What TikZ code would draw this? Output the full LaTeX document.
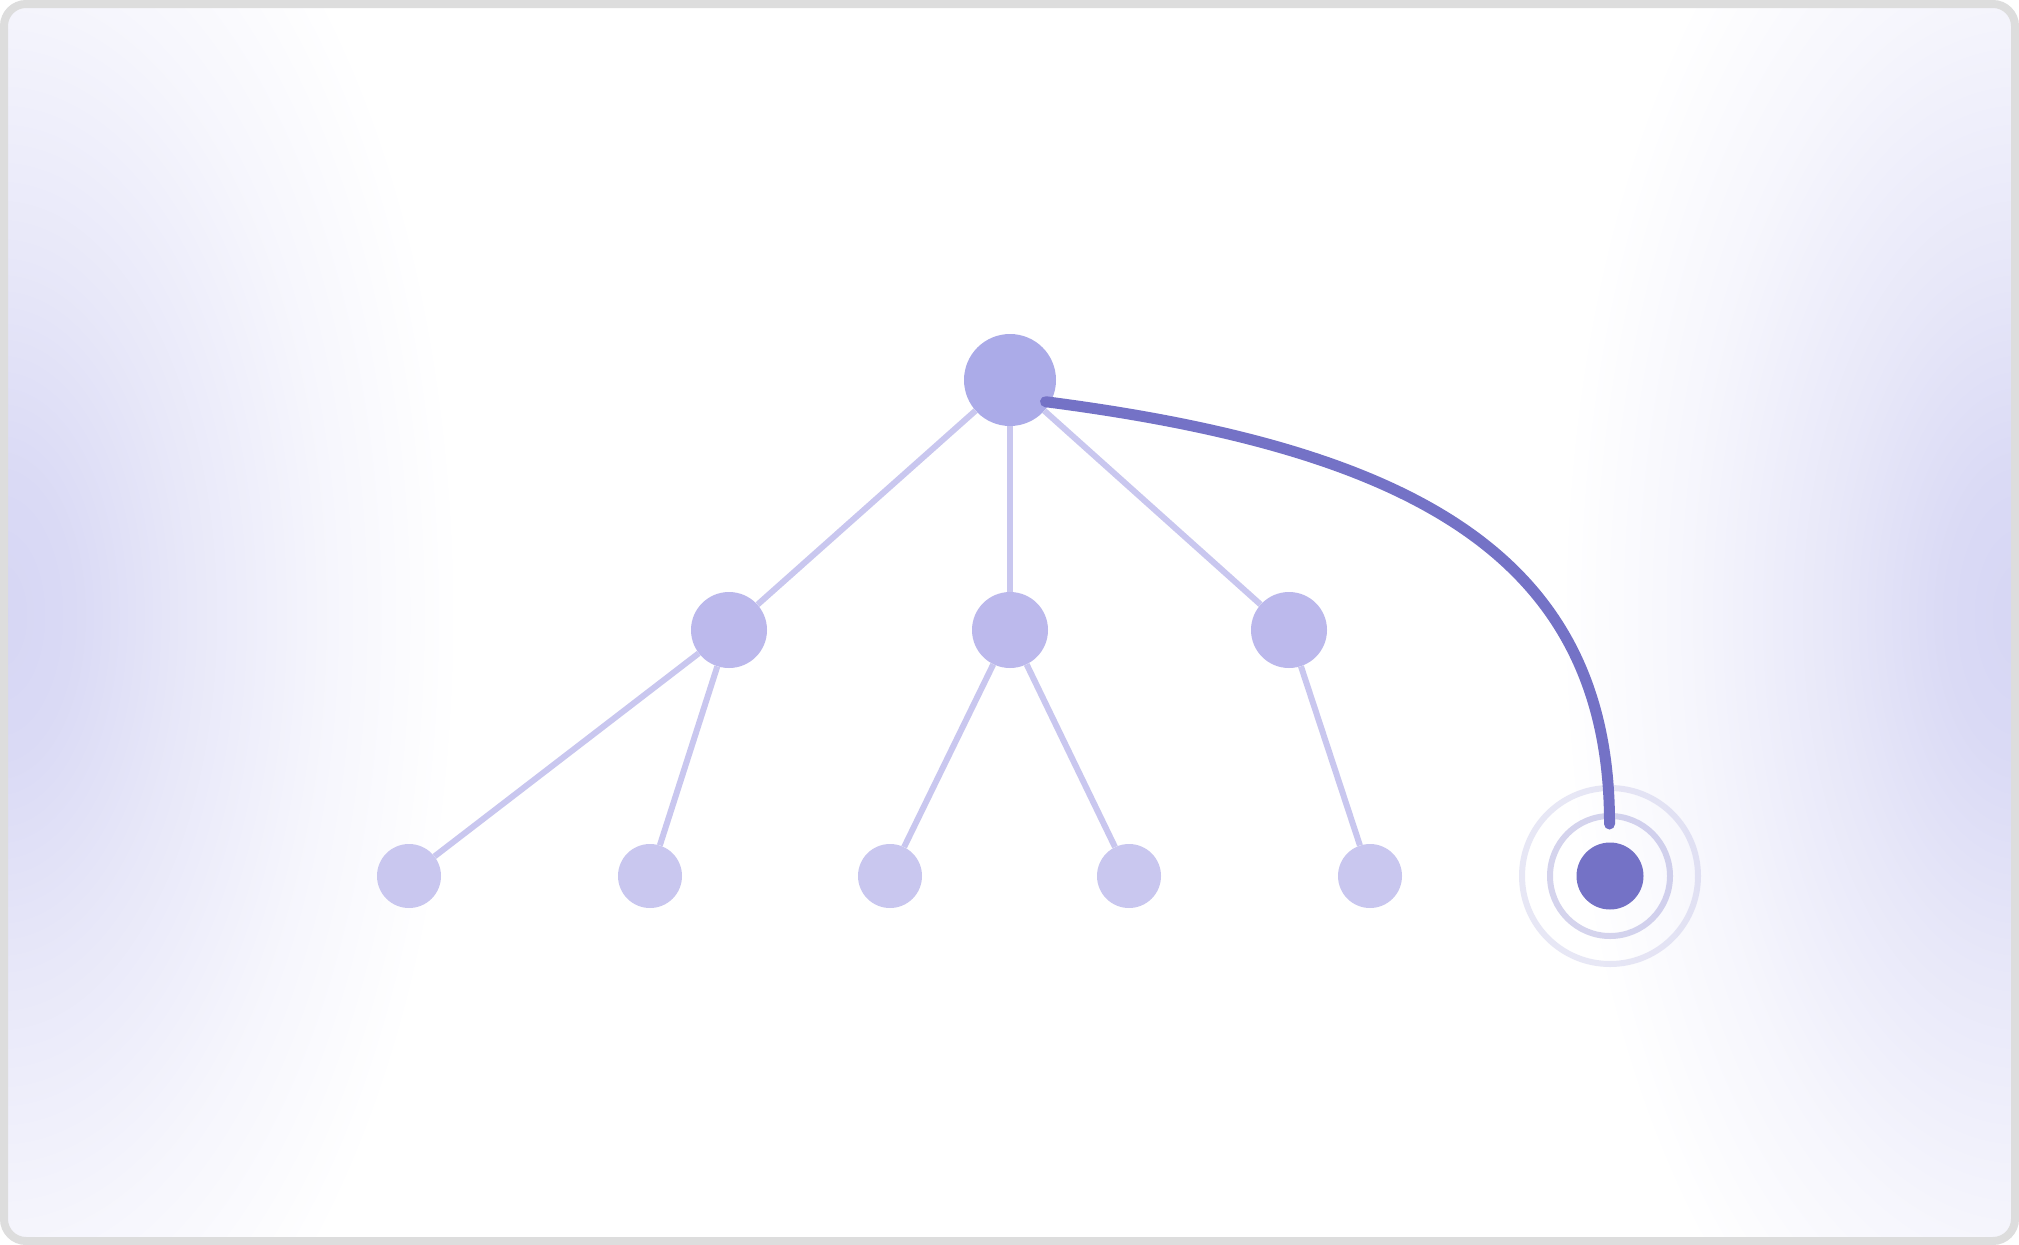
\documentclass[tikz,border=0pt]{standalone}
\definecolor{rootc}{HTML}{ABABE8}
\definecolor{midc}{HTML}{BCB9EC}
\definecolor{leafc}{HTML}{C9C7EF}
\definecolor{accent}{HTML}{7472C6}
\definecolor{framec}{HTML}{DDDDDD}
\definecolor{glowc}{HTML}{D6D6F4}
\pgfdeclareradialshading{glow}{\pgfpoint{0bp}{0bp}}{color(0bp)=(glowc); color(4bp)=(glowc!90!white); color(10bp)=(glowc!58!white); color(18bp)=(glowc!22!white); color(25bp)=(white); color(50bp)=(white)}
\begin{document}
\begin{tikzpicture}[x=1pt, y=-1pt,
				root/.style = {circle, fill=rootc, inner sep=0pt, minimum size=92pt},
				mid/.style = {circle, fill=midc, inner sep=0pt, minimum size=76pt},
				leaf/.style = {circle, fill=leafc, inner sep=0pt, minimum size=64pt},
				goal/.style = {circle, fill=accent, inner sep=0pt, minimum size=67pt},
				halo/.style = {circle, draw=accent, line width=6pt, inner sep=0pt},
				edge/.style = {draw=leafc, line width=6pt},
				link/.style = {draw=accent, line width=11pt, line cap=round}]

				\useasboundingbox (0,0) rectangle (2019,1245);
				\fill[white] (0,0) rectangle (2019,1245);
				\begin{scope}
					\clip[rounded corners=22pt] (4,4) rectangle (2015,1241);
					\fill[white] (0,0) rectangle (2019,1245);
					\shade[shading=glow] (0,615) ellipse [x radius=460pt, y radius=880pt];
					\shade[shading=glow] (2019,615) ellipse [x radius=460pt, y radius=880pt];
				\end{scope}
				\draw[framec, line width=8pt, rounded corners=22pt] (4,4) rectangle (2015,1241);

				\node[root] (1) at (1010, 380) {};
				\node[mid] (2) at (729, 630) {};
				\node[mid] (3) at (1010, 630) {};
				\node[mid] (4) at (1289, 630) {};
				\node[leaf] (5) at (409, 876) {};
				\node[leaf] (6) at (650, 876) {};
				\node[leaf] (7) at (890, 876) {};
				\node[leaf] (8) at (1129, 876) {};
				\node[leaf] (9) at (1370, 876) {};
				\node[goal] (10) at (1610, 876) {};

				\draw[edge] (1) to (2);
				\draw[edge] (1) to (3);
				\draw[edge] (1) to (4);
				\draw[edge] (2) to (5);
				\draw[edge] (2) to (6);
				\draw[edge] (3) to (7);
				\draw[edge] (3) to (8);
				\draw[edge] (4) to (9);

				\coordinate (s) at (1045.5, 401.7);
				\coordinate (t) at (1609.5, 824);
				\draw[link] (s) .. controls (1420, 450) and (1610, 560) .. (t);

				\node[halo, draw opacity=0.3, minimum size=120pt] (11) at (10) {};
				\node[halo, draw opacity=0.17, minimum size=176pt] (12) at (10) {};

			\end{tikzpicture}
\end{document}
